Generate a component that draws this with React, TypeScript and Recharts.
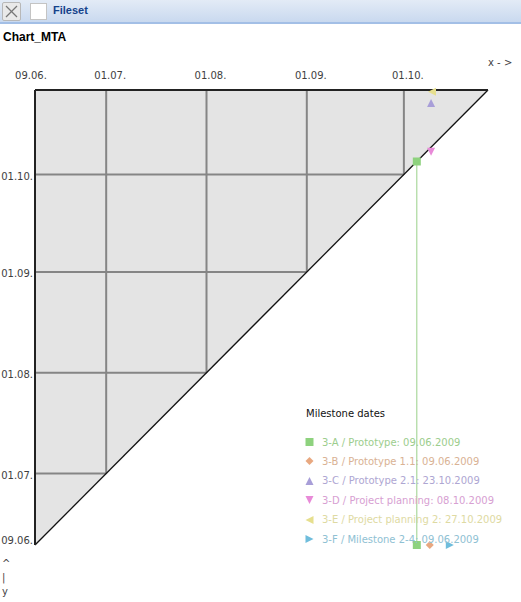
import React from 'react';
import { ComposedChart, Area, Scatter, XAxis, YAxis, ReferenceLine } from 'recharts';

// days since 09.06.2009
const tickDays = [0, 22, 53, 84, 114];
const tickLabels = ['09.06.', '01.07.', '01.08.', '01.09.', '01.10.'];
const domainMax = 140; // 27.10.2009

const triangleData = [
  { x: 0, band: [0, 140] },
  { x: 140, band: [140, 140] },
];

const milestoneNames = [
  '3-A / Prototype: 09.06.2009',
  '3-B / Prototype 1.1: 09.06.2009',
  '3-C / Prototype 2.1: 23.10.2009',
  '3-D / Project planning: 08.10.2009',
  '3-E / Project planning 2: 27.10.2009',
  '3-F / Milestone 2-4: 09.06.2009',
];
const milestoneShapes = ['square', 'diamond', 'up', 'down', 'left', 'right'];
const markerColors = ['#8ed27e', '#e8a880', '#a89ed8', '#e88ad8', '#e6df8e', '#6fbddc'];
const textColors = ['#9ccd8d', '#d9b294', '#aea6d2', '#d7a0d2', '#dedaa2', '#8fc1d3'];

const seriesA = [ { x: 118, y: 118 }, { x: 118, y: 0 } ];
const seriesB = [ { x: 122, y: 0 } ];
const seriesC = [ { x: 122.4, y: 136 } ];
const seriesD = [ { x: 122.4, y: 121 } ];
const seriesE = [ { x: 122.7, y: 139.5 } ];
const seriesF = [ { x: 128.2, y: 0 } ];
const seriesList = [seriesA, seriesB, seriesC, seriesD, seriesE, seriesF];

const FONT = '"DejaVu Sans", sans-serif';

function markerPath(kind: string, cx: number, cy: number, r: number) {
  switch (kind) {
    case 'square':
      return `M${cx - r},${cy - r}H${cx + r}V${cy + r}H${cx - r}Z`;
    case 'diamond':
      return `M${cx},${cy - r}L${cx + r},${cy}L${cx},${cy + r}L${cx - r},${cy}Z`;
    case 'up':
      return `M${cx},${cy - r}L${cx + r},${cy + r}L${cx - r},${cy + r}Z`;
    case 'down':
      return `M${cx - r},${cy - r}L${cx + r},${cy - r}L${cx},${cy + r}Z`;
    case 'left':
      return `M${cx - r},${cy}L${cx + r},${cy - r}L${cx + r},${cy + r}Z`;
    default:
      return `M${cx - r},${cy - r}L${cx + r},${cy}L${cx - r},${cy + r}Z`;
  }
}

const makeShape = (kind: string, color: string) => (props: any) => {
  const { cx, cy } = props;
  if (cx == null || cy == null) return <g />;
  return <path d={markerPath(kind, cx, cy, 4)} fill={color} />;
};

const XTick = (props: any) => {
  const { x, y, payload } = props;
  const idx = tickDays.indexOf(payload.value);
  return (
    <text x={x + (idx === 0 ? -4 : 4)} y={y + 1} textAnchor="middle" fontSize={10} fontFamily={FONT} fill="#3e3e3e">
      {tickLabels[idx]}
    </text>
  );
};

const YTick = (props: any) => {
  const { x, y, payload } = props;
  const idx = tickDays.indexOf(payload.value);
  return (
    <text x={x} y={y + (idx === 0 ? -1 : 5)} textAnchor="end" fontSize={10} fontFamily={FONT} fill="#3e3e3e">
      {tickLabels[idx]}
    </text>
  );
};

export default function App() {
  const gridMonths = tickDays.slice(1);
  return (
    <div style={{ position: 'absolute', left: 0, top: 0, width: 521, height: 602, background: '#fff', fontFamily: FONT }}>
      {/* toolbar */}
      <div style={{ position: 'absolute', left: 0, top: 0, width: 521, height: 22, background: 'linear-gradient(#e3ebf6, #c9d9ef)', borderBottom: '2px solid #a3bfe6' }} />
      <div style={{ position: 'absolute', left: 2, top: 2, width: 17, height: 17, background: '#e9e9e9', border: '1px solid #b8b8b8', borderRadius: 2 }}>
        <svg width={17} height={17}>
          <line x1={3} y1={3} x2={14} y2={14} stroke="#777" strokeWidth={1.3} />
          <line x1={14} y1={3} x2={3} y2={14} stroke="#777" strokeWidth={1.3} />
        </svg>
      </div>
      <div style={{ position: 'absolute', left: 30, top: 3, width: 15, height: 15, background: '#fff', border: '1px solid #c4c4c4' }} />
      <div style={{ position: 'absolute', left: 53, top: 4, fontSize: 11, fontWeight: 'bold', color: '#15428b', fontFamily: '"Liberation Sans", Arial, sans-serif' }}>Fileset</div>
      <div style={{ position: 'absolute', left: 3, top: 30, fontSize: 12, fontWeight: 'bold', color: '#000', fontFamily: '"Liberation Sans", Arial, sans-serif' }}>Chart_MTA</div>

      <div style={{ position: 'absolute', left: 0, top: 0 }}>
        <ComposedChart width={521} height={602} data={triangleData} margin={{ top: 60, right: 33, bottom: 57, left: 0 }}>
          <XAxis
            dataKey="x"
            type="number"
            orientation="top"
            domain={[0, domainMax]}
            ticks={tickDays}
            interval={0}
            height={30}
            tickSize={0}
            tickMargin={12}
            axisLine={false}
            tickLine={false}
            tick={<XTick />}
          />
          <YAxis
            type="number"
            domain={[0, domainMax]}
            ticks={tickDays}
            interval={0}
            width={35}
            tickSize={0}
            tickMargin={2}
            axisLine={false}
            tickLine={false}
            tick={<YTick />}
          />
          <Area dataKey="band" type="linear" fill="#e4e4e4" fillOpacity={1} stroke="none" isAnimationActive={false} />
          {gridMonths.map((m) => (
            <ReferenceLine key={'h' + m} segment={[{ x: 0, y: m }, { x: m, y: m }]} stroke="#858585" strokeWidth={2} />
          ))}
          {gridMonths.map((m) => (
            <ReferenceLine key={'v' + m} segment={[{ x: m, y: domainMax }, { x: m, y: m }]} stroke="#858585" strokeWidth={2} />
          ))}
          <ReferenceLine segment={[{ x: 0, y: 0 }, { x: domainMax, y: domainMax }]} stroke="#111" strokeWidth={1.3} />
          <ReferenceLine segment={[{ x: 0, y: domainMax }, { x: domainMax, y: domainMax }]} stroke="#222" strokeWidth={2} />
          <ReferenceLine segment={[{ x: 0, y: 0 }, { x: 0, y: domainMax }]} stroke="#222" strokeWidth={2} />
          {seriesList.map((d, i) => (
            <Scatter
              key={i}
              data={d}
              dataKey="y"
              line={i === 0 ? { stroke: '#9ad08a', strokeWidth: 1 } : false}
              shape={makeShape(milestoneShapes[i], markerColors[i])}
              isAnimationActive={false}
            />
          ))}
        </ComposedChart>
      </div>

      {/* axis direction hints */}
      <div style={{ position: 'absolute', left: 488, top: 57, fontSize: 10, color: '#444' }}>x - &gt;</div>
      <div style={{ position: 'absolute', left: 2, top: 557, fontSize: 10, color: '#444', lineHeight: '14px', width: 10 }}>
        <div>^</div>
        <div>|</div>
        <div>y</div>
      </div>

      {/* legend */}
      <div style={{ position: 'absolute', left: 306, top: 408, fontSize: 10, color: '#111' }}>Milestone dates</div>
      {milestoneNames.map((name, i) => (
        <div key={name} style={{ position: 'absolute', left: 304, top: 435 + i * 19.4, height: 14, display: 'flex', alignItems: 'center' }}>
          <svg width={12} height={14}>
            <path d={markerPath(milestoneShapes[i], 5.5, 7, 4)} fill={markerColors[i]} />
          </svg>
          <span style={{ marginLeft: 6, fontSize: 10, color: textColors[i], whiteSpace: 'nowrap' }}>{name}</span>
        </div>
      ))}
    </div>
  );
}
